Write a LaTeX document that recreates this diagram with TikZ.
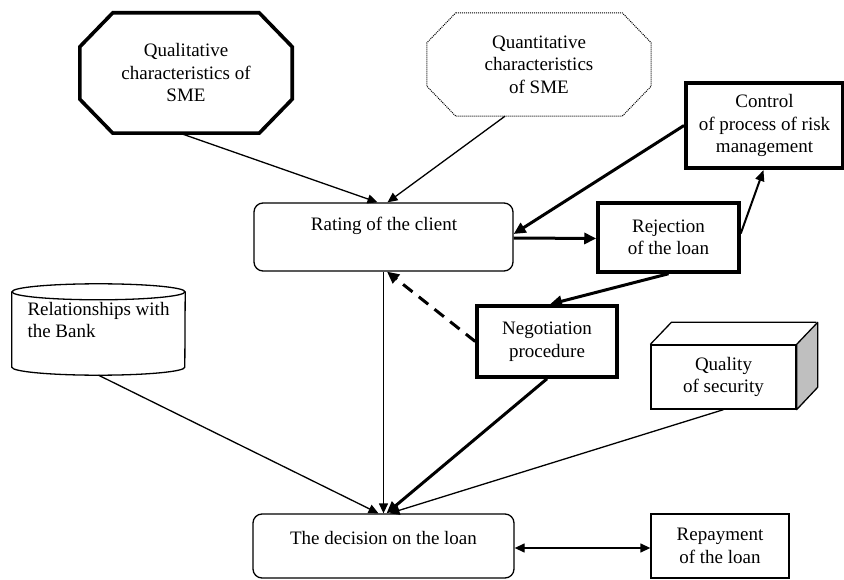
\documentclass[tikz,border=0pt]{standalone}
\usepackage{fontspec}
\setmainfont{Liberation Serif}
\usetikzlibrary{calc,arrows.meta}
\begin{document}
\begin{tikzpicture}[x=1pt,y=-1pt,
  every node/.style={font=\fontsize{19}{22.5}\selectfont, align=center, inner sep=0pt},
  thinbox/.style={draw, line width=1.3pt},
  thickbox/.style={draw, line width=3.5pt},
  thinarrow/.style={line width=1.3pt, -{Triangle[length=10pt,width=9pt]}},
  midarrow/.style={line width=2pt, -{Triangle[length=11pt,width=9pt]}},
  thickarrow/.style={line width=3pt, -{Triangle[length=12pt,width=11pt]}}
]
\useasboundingbox (0,0) rectangle (844,580);

% Qualitative octagon
\node[minimum width=212pt, minimum height=120pt] (qual) at (186,73) {Qualitative\\characteristics of\\SME};
\draw[line width=3.6pt, line join=miter]
  ($(qual.north west)+(33,0)$) -- ($(qual.north east)+(-33,0)$) -- ($(qual.north east)+(0,34)$)
  -- ($(qual.south east)+(0,-34)$) -- ($(qual.south east)+(-33,0)$) -- ($(qual.south west)+(33,0)$)
  -- ($(qual.south west)+(0,-34)$) -- ($(qual.north west)+(0,34)$) -- cycle;

% Quantitative octagon (dotted)
\node[minimum width=224pt, minimum height=103pt] (quant) at (539,64.5) {Quantitative\\characteristics\\of SME};
\draw[line width=1pt, densely dotted]
  ($(quant.north west)+(29,0)$) -- ($(quant.north east)+(-29,0)$) -- ($(quant.north east)+(0,30)$)
  -- ($(quant.south east)+(0,-30)$) -- ($(quant.south east)+(-29,0)$) -- ($(quant.south west)+(29,0)$)
  -- ($(quant.south west)+(0,-30)$) -- ($(quant.north west)+(0,30)$) -- cycle;

% Control
\node[draw, line width=4pt, minimum width=157pt, minimum height=85pt] (ctrl) at (764.5,125.5) {Control\\of process of risk\\management};

% Rating
\node[thinbox, rounded corners=9pt, minimum width=259pt, minimum height=68pt] (rating) at (383.5,237) {};
\node (ratingtxt) at (384,226) {Rating of the client};

% Rejection
\node[thickbox, minimum width=141pt, minimum height=69pt] (rej) at (668.5,237.5) {Rejection\\of the loan};

% Negotiation
\node[thickbox, minimum width=140pt, minimum height=71pt] (neg) at (547,341.5) {Negotiation\\procedure};

% Cylinder
\node[minimum width=173pt, minimum height=91pt] (rel) at (98.5,329.5) {};
\draw[line width=1.3pt] ($(rel.north)+(0,8)$) ellipse [x radius=86.5pt, y radius=8pt];
\draw[line width=1.3pt] ($(rel.north west)+(0,8)$) -- ($(rel.south west)+(0,-8)$)
  arc[start angle=180, end angle=360, x radius=86.5pt, y radius=8pt] -- ($(rel.north east)+(0,8)$);
\node[align=left] (reltxt) at (98.5,320) {Relationships with\\the Bank};

% Quality (3D box)
\node[thinbox, minimum width=145pt, minimum height=64pt] (qualsec) at (723.5,377) {Quality\\of security};
\draw[line width=1.3pt, fill=gray!50, line join=round] (qualsec.north east) -- ++(21,-22) -- ++(0,65) -- (qualsec.south east) -- cycle;
\draw[line width=1.3pt, line join=round] (qualsec.north west) -- ++(21,-22) -- ++(145,0);

% Decision
\node[thinbox, rounded corners=9pt, minimum width=261pt, minimum height=64pt] (dec) at (383.5,546) {};
\node (dectxt) at (383.5,538) {The decision on the loan};

% Repayment
\node[thinbox, minimum width=138pt, minimum height=64pt] (rep) at (720,546) {Repayment\\of the loan};

% Connectors
\draw[thinarrow] ([xshift=-6pt]qual.south) -- ([xshift=-6pt]rating.north);
\draw[thinarrow] ([xshift=-34pt]quant.south) -- ([xshift=4pt]rating.north);
\draw[thickarrow] (ctrl.west) -- ([yshift=3pt]rating.east);
\draw[thickarrow] ([yshift=-1pt]rating.east) -- ([yshift=-1pt]rej.west);
\draw[midarrow] ([yshift=4pt]rej.east) -- ([xshift=-1pt]ctrl.south);
\draw[thickarrow] (rej.south) -- ([xshift=3pt]neg.north);
\draw[thickarrow, dashed, dash pattern=on 12pt off 8pt] (neg.west) -- ([xshift=3.5pt]rating.south);
\draw[thinarrow] (rating.south) -- (dec.north);
\draw[thickarrow] (neg.south) -- ([xshift=3pt]dec.north);
\draw[thinarrow] (qualsec.south) -- ([xshift=6pt]dec.north);
\draw[thinarrow] (rel.south) -- ([xshift=-5pt]dec.north);
\draw[thinarrow, {Triangle[length=10pt,width=9pt]}-{Triangle[length=10pt,width=9pt]}] ([yshift=-2pt]dec.east) -- ([yshift=-2pt]rep.west);
\end{tikzpicture}
\end{document}
